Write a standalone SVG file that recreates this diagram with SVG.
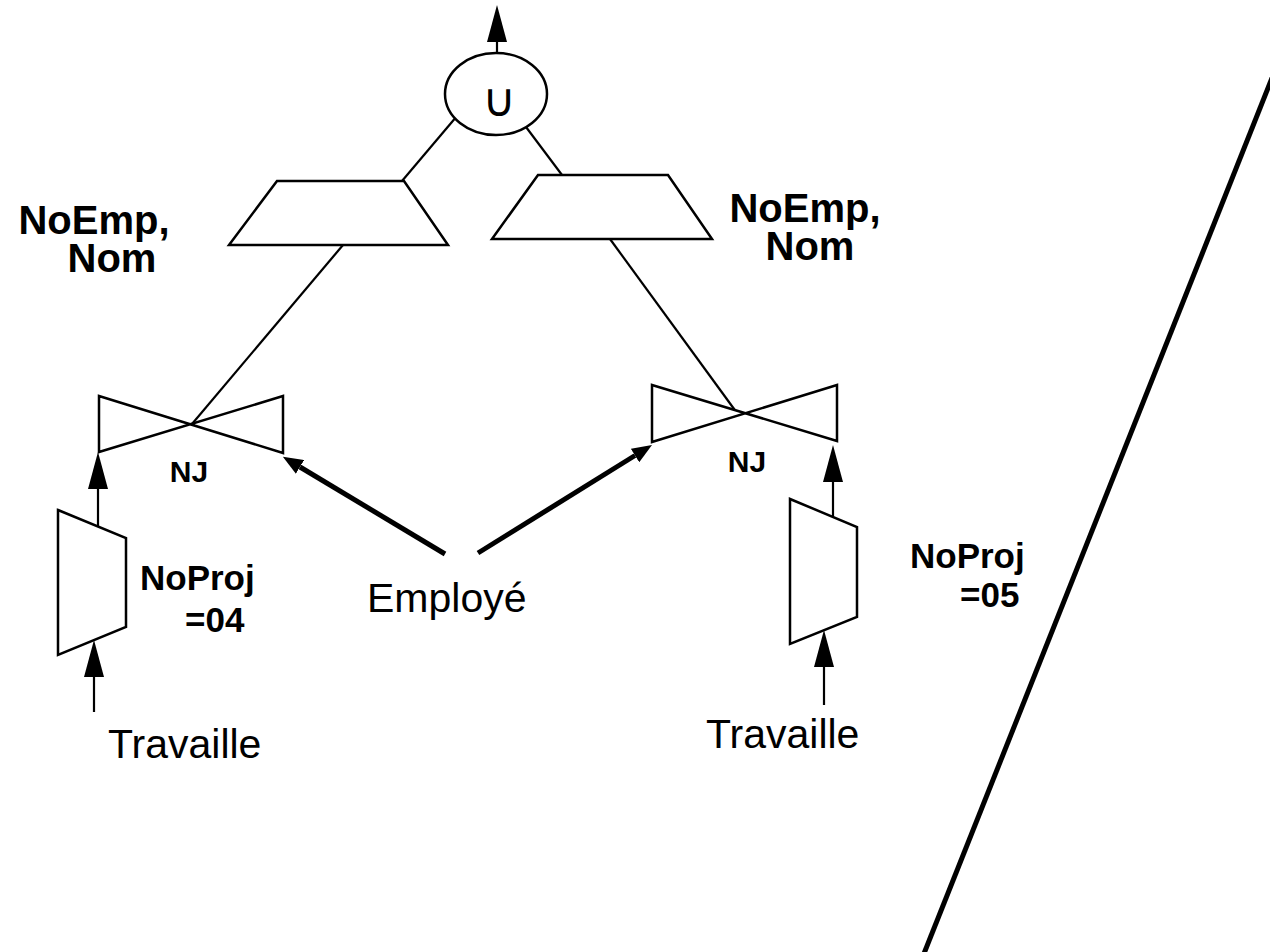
<svg xmlns="http://www.w3.org/2000/svg" width="1270" height="952" viewBox="0 0 1270 952">
<defs>
<style>
.s{fill:#fff;stroke:#000;stroke-width:2.5;stroke-linejoin:miter}
.l{fill:none;stroke:#000;stroke-width:2.2}
.t{fill:none;stroke:#000;stroke-width:5}
.b{font-family:"Liberation Sans",Arial,sans-serif;font-weight:bold;fill:#000}
.r{font-family:"Liberation Sans",Arial,sans-serif;fill:#000}
</style>
<marker id="ah" markerUnits="userSpaceOnUse" markerWidth="37" markerHeight="20" refX="0" refY="10" orient="auto" viewBox="0 0 37 20">
<path d="M0,0 L37,10 L0,20 Z" fill="#000"/>
</marker>
<marker id="th" markerUnits="userSpaceOnUse" markerWidth="20" markerHeight="16" refX="0" refY="8" orient="auto" viewBox="0 0 20 16">
<path d="M0,0 L20,8 L0,16 Z" fill="#000"/>
</marker>
</defs>
<g id="connectors">
<line class="l" x1="497" y1="53" x2="497" y2="42" marker-end="url(#ah)"/>
<line class="l" x1="457" y1="116" x2="402" y2="181"/>
<line class="l" x1="526" y1="127" x2="562" y2="175"/>
<line class="l" x1="343" y1="245" x2="192" y2="424"/>
<line class="l" x1="610" y1="239" x2="737" y2="413"/>
<line class="l" x1="98" y1="527" x2="98" y2="489" marker-end="url(#ah)"/>
<line class="l" x1="94" y1="712" x2="94" y2="677" marker-end="url(#ah)"/>
<line class="l" x1="833" y1="517" x2="833" y2="482" marker-end="url(#ah)"/>
<line class="l" x1="824" y1="705" x2="824" y2="667" marker-end="url(#ah)"/>
<line class="t" x1="445" y1="554" x2="300" y2="467" marker-end="url(#th)"/>
<line class="t" x1="478" y1="553" x2="635" y2="455.5" marker-end="url(#th)"/>
</g>
<g id="union">
<ellipse class="s" cx="496" cy="94" rx="51" ry="41"/>
<text x="499" y="116" text-anchor="middle" font-family="DejaVu Sans,sans-serif" font-size="46">∪</text>
</g>
<g id="proj-left">
<polygon class="s" points="277,181 404,181 448,245 229,245"/>
</g>
<g id="proj-right">
<polygon class="s" points="538,175 668,175 712,239 492,239"/>
</g>
<g id="join-left">
<path class="s" d="M99,396 L283,453 L283,396 L99,452 Z"/>
<text class="b" x="189" y="482" font-size="30" text-anchor="middle">NJ</text>
</g>
<g id="join-right">
<path class="s" d="M652,385 L837,441 L837,385 L652,442 Z"/>
<text class="b" x="747" y="472" font-size="30" text-anchor="middle">NJ</text>
</g>
<g id="sel-left">
<polygon class="s" points="58,510 126,538 126,627 58,655"/>
</g>
<g id="sel-right">
<polygon class="s" points="790,499 857,527 857,617 790,644"/>
</g>
<g id="labels">
<text class="b" x="94" y="234" font-size="40" text-anchor="middle">NoEmp,</text>
<text class="b" x="112" y="272" font-size="40" text-anchor="middle">Nom</text>
<text class="b" x="805" y="222" font-size="40" text-anchor="middle">NoEmp,</text>
<text class="b" x="810" y="260" font-size="40" text-anchor="middle">Nom</text>
<text class="b" x="140" y="590" font-size="35">NoProj</text>
<text class="b" x="185" y="632" font-size="35">=04</text>
<text class="b" x="910" y="568" font-size="35">NoProj</text>
<text class="b" x="960" y="607" font-size="35">=05</text>
<text class="r" x="367" y="612" font-size="41">Employé</text>
<text class="r" x="108" y="758" font-size="41">Travaille</text>
<text class="r" x="706" y="748" font-size="41">Travaille</text>
</g>
<line class="t" x1="1276" y1="68" x2="923" y2="956"/>
</svg>
